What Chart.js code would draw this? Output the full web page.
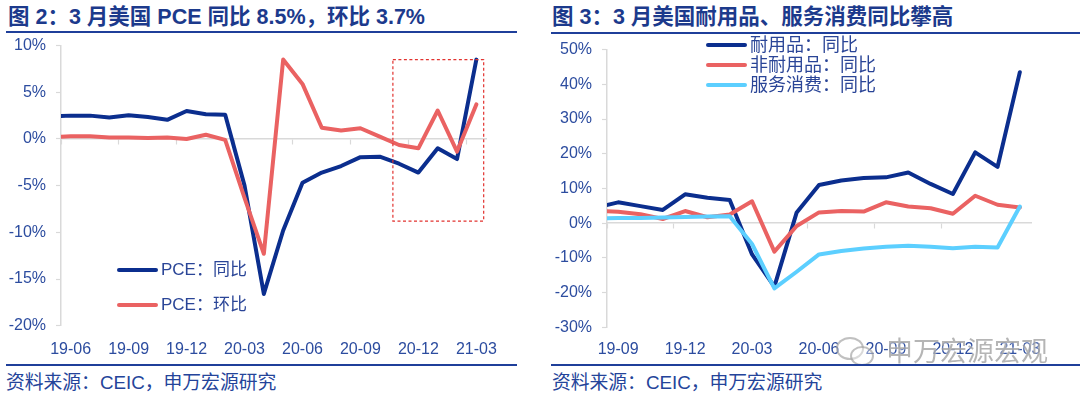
<!DOCTYPE html>
<html lang="zh">
<head>
<meta charset="utf-8">
<title>PCE</title>
<script src="https://cdn.jsdelivr.net/npm/chart.js@4.4.1/dist/chart.umd.min.js"></script>
<style>
	body {
		margin: 0;
		width: 1080px;
		height: 398px;
		background: #fff;
		overflow: hidden;
		position: relative;
		font-family: "Liberation Sans", "Noto Sans CJK SC", sans-serif;
		color: #24449a;
	}
	.title {
		position: absolute;
		top: 5px;
		line-height: 25px;
		font-size: 21.5px;
		font-weight: bold;
		color: #1c3a8c;
		white-space: nowrap;
	}
	.rule { position: absolute; height: 2px; background: #1f3f9a; }
	.source {
		position: absolute;
		top: 372px;
		line-height: 22px;
		font-size: 18.8px;
		color: #24449a;
		white-space: nowrap;
	}
	.chart_box { position: absolute; }
	.legend {
		position: absolute;
		line-height: 20px;
		color: #2a4597;
		white-space: nowrap;
	}
	.legend i {
		display: inline-block;
		width: 41px;
		height: 4px;
		border-radius: 2px;
		vertical-align: middle;
		margin-right: 3px;
		position: relative;
		top: -1px;
	}
	.mark {
		position: absolute;
		left: 886px;
		top: 336px;
		font-size: 27px;
		line-height: 32px;
		color: rgba(120, 120, 120, 0.55);
		text-shadow: 0 0 2px #fff;
		white-space: nowrap;
	}
	.bubble {
		position: absolute;
		border: 2px solid rgba(140, 140, 140, 0.55);
		border-radius: 50%;
		background: rgba(255, 255, 255, 0.4);
	}
</style>
</head>
<body>

<div class="title" style="left: 8px;">图 2：3 月美国 PCE 同比 8.5%，环比 3.7%</div>
<div class="rule" style="left: 6px; top: 31px; width: 511px;"></div>
<div class="title" style="left: 552px;">图 3：3 月美国耐用品、服务消费同比攀高</div>
<div class="rule" style="left: 551px; top: 32px; width: 529px;"></div>

<div class="chart_box" style="left: 0px; top: 26px;"><canvas id="pceChart" width="520" height="339"></canvas></div>
<div class="chart_box" style="left: 540px; top: 30px;"><canvas id="goodsChart" width="540" height="335"></canvas></div>

<div class="legend" style="left: 117px; top: 260px; font-size: 17px;"><i style="background: #0b2e8e;"></i>PCE：同比</div>
<div class="legend" style="left: 117px; top: 295px; font-size: 17px;"><i style="background: #ea6262;"></i>PCE：环比</div>

<div class="legend" style="left: 706px; top: 35px; font-size: 18px;"><i style="background: #0b2e8e;"></i>耐用品：同比</div>
<div class="legend" style="left: 706px; top: 55px; font-size: 18px;"><i style="background: #ea6262;"></i>非耐用品：同比</div>
<div class="legend" style="left: 706px; top: 75px; font-size: 18px;"><i style="background: #5ccfff;"></i>服务消费：同比</div>

<div class="bubble" style="left: 836px; top: 337px; width: 24px; height: 19px;"></div>
<div class="bubble" style="left: 850px; top: 346px; width: 20px; height: 16px;"></div>
<div class="mark">申万宏源宏观</div>

<div class="rule" style="left: 6px; top: 364px; width: 511px;"></div>
<div class="rule" style="left: 551px; top: 364px; width: 529px;"></div>
<div class="source" style="left: 6px;">资料来源：CEIC，申万宏源研究</div>
<div class="source" style="left: 552px;">资料来源：CEIC，申万宏源研究</div>

<script>
// figure 2: PCE, first month only feeds the line that runs into the axis
const pceMonths = ["19-05", "19-06", "19-07", "19-08", "19-09", "19-10", "19-11", "19-12",
	"20-01", "20-02", "20-03", "20-04", "20-05", "20-06", "20-07", "20-08", "20-09", "20-10",
	"20-11", "20-12", "21-01", "21-02", "21-03"];
const pceYoy = [2.4, 2.5, 2.5, 2.3, 2.55, 2.35, 2.05, 3.0, 2.65, 2.6, -5.0, -16.6, -9.8,
	-4.7, -3.6, -2.9, -1.95, -1.9, -2.65, -3.6, -1.0, -2.15, 8.5];
const pceMom = [0.2, 0.3, 0.3, 0.15, 0.15, 0.1, 0.15, 0.0, 0.45, -0.1, -6.3, -12.3, 8.5,
	5.9, 1.2, 0.9, 1.15, 0.25, -0.65, -1.0, 3.05, -1.35, 3.7];
const pceTicks = [-20, 10, 5];
// dashed box: category index from / to, value top / bottom
const pceBox = [17.68, 22.38, 8.5, -8.8];

// figure 3: goods and services
const goodsMonths = ["19-08", "19-09", "19-10", "19-11", "19-12", "20-01", "20-02", "20-03",
	"20-04", "20-05", "20-06", "20-07", "20-08", "20-09", "20-10", "20-11", "20-12", "21-01",
	"21-02", "21-03"];
const durableYoy = [4.5, 6.0, 4.9, 3.8, 8.3, 7.3, 6.7, -9.0, -18.3, 3.1, 11.0, 12.3, 13.0,
	13.2, 14.6, 11.3, 8.4, 20.4, 16.2, 43.5];
const nondurableYoy = [3.5, 3.3, 2.6, 1.2, 3.5, 1.7, 2.5, 6.3, -8.2, -0.8, 3.1, 3.5, 3.35,
	6.0, 4.8, 4.3, 2.7, 7.9, 5.3, 4.5];
const servicesYoy = [1.4, 1.5, 1.5, 1.6, 1.8, 1.9, 2.0, -6.0, -18.8, -14.0, -9.0, -8.0, -7.3,
	-6.8, -6.5, -6.8, -7.2, -6.8, -7.0, 4.8];
const goodsTicks = [-30, 50, 10];

window.addEventListener("DOMContentLoaded", () => {
	const navy = "#0b2e8e";
	const salmon = "#ea6262";
	const sky = "#5ccfff";
	const axisGray = "#d9d9d9";
	const tickColor = "#2c4c9f";
	const tickFont = { family: "\"Liberation Sans\", \"Noto Sans CJK SC\", sans-serif", size: 16 };

	function line(label, data, color, order) {
		return {
			label: label,
			data: data,
			borderColor: color,
			backgroundColor: color,
			borderWidth: 4,
			pointRadius: 0,
			tension: 0,
			borderJoinStyle: "round",
			borderCapStyle: "round",
			order: order,
			clip: { left: 0, top: 5, right: 5, bottom: 5 },
		};
	}

	function scales(firstShown, yRange, yWidth, xHeight, xPad) {
		return {
			x: {
				type: "category",
				min: firstShown,
				offset: true,
				grid: { display: false, drawTicks: false },
				border: { display: false },
				ticks: {
					autoSkip: false,
					maxRotation: 0,
					padding: xPad,
					color: tickColor,
					font: tickFont,
					callback: function (v, i) {
						return i % 3 === 0 ? this.getLabelForValue(v) : "";
					},
				},
				afterFit: (s) => { s.height = xHeight; },
			},
			// zero line with the small category ticks on it
			zero: {
				type: "category",
				axis: "x",
				position: { y: 0 },
				min: firstShown,
				offset: true,
				grid: {
					offset: true,
					drawOnChartArea: false,
					drawTicks: true,
					tickLength: 5,
					tickWidth: 1.2,
					tickColor: (c) => (c.index % 3 === 0 ? axisGray : "rgba(0,0,0,0)"),
				},
				border: { color: axisGray, width: 1.5 },
				ticks: { display: false, autoSkip: false },
			},
			y: {
				min: yRange[0],
				max: yRange[1],
				ticks: {
					stepSize: yRange[2],
					padding: 10,
					color: tickColor,
					font: tickFont,
					callback: (v) => v + "%",
				},
				grid: { drawOnChartArea: false, tickLength: 5, color: axisGray, tickWidth: 1.2 },
				border: { color: axisGray, width: 1.5 },
				afterFit: (s) => { s.width = yWidth; },
			},
		};
	}

	const boxPlugin = {
		id: "dashBox",
		afterDatasetsDraw(chart) {
			const { ctx } = chart;
			const x = chart.scales.x;
			const y = chart.scales.y;
			const left = x.getPixelForValue(pceBox[0]);
			const right = x.getPixelForValue(pceBox[1]);
			const top = y.getPixelForValue(pceBox[2]);
			const bottom = y.getPixelForValue(pceBox[3]);
			ctx.save();
			ctx.strokeStyle = "#e2322f";
			ctx.lineWidth = 1.2;
			ctx.setLineDash([3, 2.5]);
			ctx.strokeRect(left, top, right - left, bottom - top);
			ctx.restore();
		},
	};

	new Chart(document.getElementById("pceChart").getContext("2d"), {
		type: "line",
		data: {
			labels: pceMonths,
			datasets: [
				line("PCE：同比", pceYoy, navy, 1),
				line("PCE：环比", pceMom, salmon, 0),
			],
		},
		options: {
			responsive: false,
			animation: false,
			events: [],
			layout: { padding: { left: 0, right: 34, top: 0, bottom: 0 } },
			scales: scales("19-06", pceTicks, 61, 39.3, 14),
			plugins: { legend: { display: false }, tooltip: { enabled: false } },
		},
		plugins: [boxPlugin],
	});

	new Chart(document.getElementById("goodsChart").getContext("2d"), {
		type: "line",
		data: {
			labels: goodsMonths,
			datasets: [
				line("耐用品：同比", durableYoy, navy, 2),
				line("非耐用品：同比", nondurableYoy, salmon, 1),
				line("服务消费：同比", servicesYoy, sky, 0),
			],
		},
		options: {
			responsive: false,
			animation: false,
			events: [],
			layout: { padding: { left: 0, right: 49, top: 0, bottom: 0 } },
			scales: scales("19-09", goodsTicks, 67, 37.7, 13),
			plugins: { legend: { display: false }, tooltip: { enabled: false } },
		},
	});
});
</script>
</body>
</html>
